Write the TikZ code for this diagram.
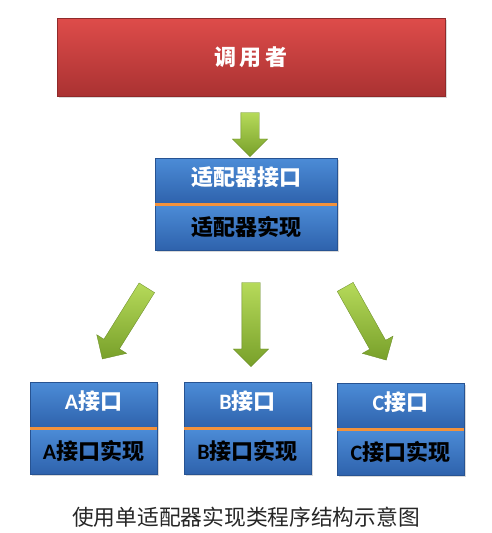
\documentclass[tikz,border=0pt]{standalone}
\usepackage{fontspec}
\setmainfont{Carlito}
\newfontfamily\cjk{Noto Sans CJK SC}
\usetikzlibrary{positioning,shapes.arrows,shadows}
\definecolor{callerTop}{RGB}{222,76,74}
\definecolor{callerBot}{RGB}{170,50,50}
\definecolor{ifaceTop}{RGB}{76,140,215}
\definecolor{ifaceBot}{RGB}{46,98,172}
\definecolor{splitLine}{RGB}{243,146,60}
\definecolor{arrowLight}{RGB}{182,218,90}
\definecolor{arrowDark}{RGB}{120,160,42}
\newcommand\latin[1]{{\rmfamily#1}}
\begin{document}
\begin{tikzpicture}[x=1pt, y=-1pt,
    boxfont/.style={font=\cjk\bfseries\fontsize{22}{22}\selectfont},
    shadowed/.style={drop shadow={shadow xshift=1.5pt, shadow yshift=-1.5pt, opacity=0.3}},
    caller/.style={rectangle, shadowed, boxfont, minimum width=388pt, minimum height=78pt,
        top color=callerTop, bottom color=callerBot, draw=callerBot!85!black, text=white},
    part/.style={rectangle, shadowed, boxfont, inner sep=0pt, minimum height=46pt,
        top color=ifaceTop, bottom color=ifaceBot, draw=ifaceBot!85!black},
    iface/.style={part, text=white, text height=17pt, text depth=8pt},
    impl/.style={part, text=black},
    split/.style={splitLine, line width=3.2pt},
    flow/.style={single arrow, inner xsep=0pt, inner ysep=9pt, single arrow head extend=8.5pt,
        top color=arrowLight, bottom color=arrowDark, draw=arrowDark!85!black, line width=0.3pt}]
\useasboundingbox (0,0) rectangle (492,533);

% caller
\node[caller] (caller) at (251,57) {调\hspace{4pt}用\hspace{4pt}者};
\node[flow, minimum height=44pt, rotate=-90] (toAdapter) at (250,130) {};

% adapter
\node[iface, minimum width=182pt] (adapterI) at (246,181) {适配器接口};
\node[impl, minimum width=182pt, below=0pt of adapterI] (adapterImpl) {适配器实现};
\draw[split] (adapterI.south west) -- (adapterI.south east);

\node[flow, minimum height=84pt, rotate=238] (toA) at (127,319.5) {};
\node[flow, minimum height=84pt, rotate=-90] (toB) at (251,320) {};
\node[flow, minimum height=84pt, rotate=-60.7] (toC) at (363.5,319.5) {};

% concrete interfaces
\node[iface, minimum width=127pt] (aI) at (93.5,405) {\latin{A}接口};
\node[impl, minimum width=127pt, below=0pt of aI] (aImpl) {\latin{A}接口实现};
\node[iface, minimum width=127pt] (bI) at (247.5,405) {\latin{B}接口};
\node[impl, minimum width=127pt, below=0pt of bI] (bImpl) {\latin{B}接口实现};
\node[iface, minimum width=127pt] (cI) at (400.5,406) {\latin{C}接口};
\node[impl, minimum width=127pt, below=0pt of cI] (cImpl) {\latin{C}接口实现};
\foreach \p in {aI,bI,cI}
    \draw[split] (\p.south west) -- (\p.south east);

\node[font=\cjk\fontsize{21.75}{22}\selectfont, text=black!85] (caption) at (246,517) {使用单适配器实现类程序结构示意图};
\end{tikzpicture}
\end{document}
